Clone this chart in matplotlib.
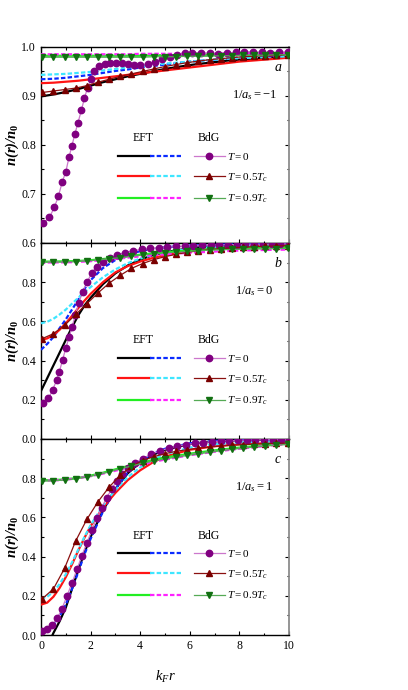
"""Density profiles n(r)/n0 vs k_F r for three couplings: EFT (lines) vs BdG (symbols)."""
import matplotlib
matplotlib.use("Agg")
import matplotlib.pyplot as plt
from matplotlib.legend_handler import HandlerBase
from matplotlib.lines import Line2D
from matplotlib.ticker import MultipleLocator, FormatStrFormatter

# ---------------------------------------------------------------- data
# EFT curves share one x grid per panel
X_EFT_A = [0, 0.5, 1, 1.5, 2, 2.5, 3, 3.5, 4, 4.5, 5, 5.5, 6, 6.5, 7, 7.5, 8, 8.5, 9, 9.5, 10]
A_BLACK = [0.899, 0.903, 0.908, 0.914, 0.921, 0.928, 0.934, 0.940, 0.945, 0.950, 0.955,
           0.959, 0.963, 0.966, 0.969, 0.972, 0.974, 0.976, 0.978, 0.979, 0.980]
A_BLUE = [0.934, 0.935, 0.937, 0.940, 0.943, 0.947, 0.951, 0.954, 0.958, 0.961, 0.964,
          0.967, 0.970, 0.972, 0.974, 0.976, 0.978, 0.980, 0.981, 0.982, 0.983]
A_RED = [0.926, 0.927, 0.929, 0.931, 0.934, 0.937, 0.940, 0.943, 0.946, 0.949, 0.952,
         0.955, 0.958, 0.961, 0.964, 0.967, 0.970, 0.972, 0.974, 0.976, 0.978]
A_CYAN = [0.943, 0.944, 0.945, 0.947, 0.949, 0.952, 0.955, 0.958, 0.961, 0.963, 0.966,
          0.968, 0.970, 0.972, 0.974, 0.976, 0.977, 0.978, 0.979, 0.980, 0.981]
A_GREEN = [0.982, 0.982, 0.982, 0.982, 0.982, 0.982, 0.982, 0.982, 0.982, 0.983, 0.983,
           0.983, 0.983, 0.983, 0.984, 0.984, 0.984, 0.984, 0.985, 0.985, 0.985]
A_MAGENTA = [0.985, 0.985, 0.985, 0.985, 0.985, 0.985, 0.985, 0.985, 0.986, 0.986, 0.986,
             0.986, 0.986, 0.986, 0.986, 0.987, 0.987, 0.987, 0.987, 0.987, 0.987]

X_EFT = [0, 0.25, 0.5, 0.75, 1, 1.25, 1.5, 1.75, 2, 2.5, 3, 3.5, 4, 4.5, 5, 6, 7, 8, 9, 10]
B_BLACK = [0.245, 0.31, 0.375, 0.44, 0.505, 0.57, 0.63, 0.68, 0.72, 0.79, 0.845, 0.885,
           0.915, 0.937, 0.953, 0.973, 0.984, 0.990, 0.993, 0.995]
B_BLUE = [0.455, 0.485, 0.52, 0.565, 0.61, 0.66, 0.71, 0.765, 0.81, 0.872, 0.913, 0.94,
          0.958, 0.97, 0.978, 0.987, 0.991, 0.994, 0.995, 0.996]
B_RED = [0.505, 0.513, 0.53, 0.557, 0.59, 0.628, 0.667, 0.705, 0.74, 0.80, 0.85, 0.882,
         0.905, 0.923, 0.937, 0.958, 0.972, 0.981, 0.986, 0.989]
B_CYAN = [0.59, 0.598, 0.613, 0.635, 0.66, 0.69, 0.72, 0.748, 0.775, 0.825, 0.865, 0.897,
          0.92, 0.938, 0.952, 0.97, 0.98, 0.986, 0.989, 0.991]
B_GREEN = [0.905, 0.905, 0.905, 0.906, 0.906, 0.907, 0.908, 0.910, 0.912, 0.918, 0.925,
           0.933, 0.940, 0.947, 0.953, 0.962, 0.969, 0.974, 0.977, 0.979]
B_MAGENTA = [0.900, 0.900, 0.900, 0.901, 0.901, 0.902, 0.903, 0.905, 0.907, 0.912, 0.918,
             0.925, 0.931, 0.937, 0.942, 0.950, 0.956, 0.961, 0.964, 0.966]

C_BLACK = [-0.12, -0.06, 0.01, 0.07, 0.14, 0.235, 0.33, 0.42, 0.50, 0.635, 0.745, 0.825,
           0.88, 0.918, 0.945, 0.975, 0.988, 0.994, 0.997, 0.998]
C_BLUE = [0.015, 0.025, 0.05, 0.095, 0.155, 0.235, 0.32, 0.41, 0.49, 0.63, 0.745, 0.83,
          0.885, 0.925, 0.95, 0.978, 0.99, 0.995, 0.997, 0.998]
C_RED = [0.155, 0.165, 0.195, 0.24, 0.295, 0.36, 0.43, 0.495, 0.555, 0.65, 0.725, 0.79,
         0.84, 0.88, 0.91, 0.945, 0.963, 0.973, 0.978, 0.981]
C_CYAN = [0.185, 0.195, 0.22, 0.26, 0.31, 0.37, 0.435, 0.50, 0.56, 0.66, 0.74, 0.805,
          0.855, 0.893, 0.922, 0.956, 0.973, 0.982, 0.987, 0.989]
C_GREEN = [0.79, 0.79, 0.791, 0.792, 0.795, 0.798, 0.802, 0.807, 0.813, 0.828, 0.845,
           0.862, 0.878, 0.892, 0.905, 0.925, 0.942, 0.956, 0.968, 0.978]
C_MAGENTA = [0.788, 0.788, 0.789, 0.79, 0.793, 0.796, 0.80, 0.805, 0.81, 0.823, 0.838,
             0.853, 0.868, 0.882, 0.895, 0.917, 0.935, 0.95, 0.963, 0.975]

# BdG T=0 (circles), own grid per panel
A_X0 = [0.09, 0.34, 0.54, 0.70, 0.86, 1.0, 1.13, 1.24, 1.37, 1.49, 1.63, 1.75, 1.88, 2.02,
        2.15, 2.35, 2.57, 2.78, 3.02, 3.27, 3.51, 3.75, 4.0, 4.3, 4.6, 4.9, 5.2, 5.5, 5.8,
        6.1, 6.45, 6.8, 7.15, 7.5, 7.85, 8.2, 8.55, 8.9, 9.25, 9.6, 9.95]
A_Y0 = [0.640, 0.652, 0.673, 0.695, 0.725, 0.745, 0.775, 0.797, 0.823, 0.845, 0.871, 0.895,
        0.917, 0.935, 0.951, 0.961, 0.966, 0.968, 0.968, 0.967, 0.965, 0.963, 0.963, 0.966,
        0.970, 0.975, 0.980, 0.984, 0.987, 0.988, 0.988, 0.987, 0.986, 0.987, 0.989, 0.990,
        0.990, 0.989, 0.988, 0.989, 0.990]
B_X0 = [0.09, 0.3, 0.47, 0.63, 0.74, 0.87, 1.0, 1.13, 1.26, 1.38, 1.52, 1.68, 1.87, 2.04,
        2.24, 2.51, 2.78, 3.05, 3.39, 3.72, 4.06, 4.4, 4.75, 5.1, 5.45, 5.8, 6.15, 6.5,
        6.85, 7.2, 7.55, 7.9, 8.25, 8.6, 8.95, 9.3, 9.65, 10.0]
B_Y0 = [0.183, 0.207, 0.25, 0.30, 0.343, 0.403, 0.463, 0.519, 0.573, 0.633, 0.692, 0.752,
        0.803, 0.845, 0.879, 0.905, 0.922, 0.939, 0.951, 0.961, 0.967, 0.972, 0.976, 0.979,
        0.982, 0.984, 0.986, 0.988, 0.989, 0.990, 0.991, 0.992, 0.993, 0.993, 0.994, 0.994,
        0.995, 0.995]
C_X0 = [0.05, 0.25, 0.45, 0.65, 0.85, 1.05, 1.25, 1.45, 1.65, 1.85, 2.05, 2.25, 2.45, 2.65,
        2.85, 3.05, 3.25, 3.5, 3.8, 4.1, 4.45, 4.8, 5.15, 5.5, 5.85, 6.2, 6.55, 6.9, 7.25,
        7.6, 7.95, 8.3, 8.65, 9.0, 9.35, 9.7, 10.0]
C_Y0 = [0.02, 0.03, 0.05, 0.085, 0.135, 0.20, 0.265, 0.335, 0.405, 0.47, 0.535, 0.595,
        0.65, 0.70, 0.745, 0.785, 0.82, 0.85, 0.878, 0.90, 0.922, 0.94, 0.953, 0.963, 0.971,
        0.977, 0.982, 0.986, 0.989, 0.991, 0.993, 0.994, 0.995, 0.996, 0.996, 0.997, 0.997]

# BdG T=0.5Tc (up triangles) and T=0.9Tc (down triangles) share one grid
X_TRI = [0.05, 0.5, 0.95, 1.4, 1.85, 2.3, 2.75, 3.2, 3.65, 4.1, 4.55, 5.0, 5.45, 5.9,
         6.35, 6.8, 7.25, 7.7, 8.15, 8.6, 9.05, 9.5, 9.95]
A_Y5 = [0.907, 0.910, 0.913, 0.916, 0.921, 0.928, 0.934, 0.940, 0.945, 0.950, 0.955, 0.960,
        0.964, 0.968, 0.971, 0.974, 0.976, 0.978, 0.980, 0.981, 0.982, 0.983, 0.984]
A_Y9 = [0.979, 0.979, 0.979, 0.979, 0.979, 0.979, 0.979, 0.979, 0.979, 0.979, 0.980, 0.980,
        0.980, 0.981, 0.981, 0.981, 0.982, 0.982, 0.983, 0.983, 0.983, 0.984, 0.984]
B_Y5 = [0.512, 0.537, 0.58, 0.635, 0.69, 0.745, 0.795, 0.835, 0.87, 0.895, 0.915, 0.93,
        0.942, 0.952, 0.96, 0.966, 0.971, 0.975, 0.978, 0.981, 0.983, 0.985, 0.986]
B_Y9 = [0.902, 0.902, 0.903, 0.905, 0.908, 0.913, 0.919, 0.925, 0.932, 0.938, 0.944, 0.949,
        0.953, 0.957, 0.96, 0.963, 0.965, 0.967, 0.968, 0.969, 0.97, 0.971, 0.972]
C_Y5 = [0.185, 0.235, 0.34, 0.48, 0.59, 0.68, 0.755, 0.815, 0.86, 0.89, 0.91, 0.925, 0.937,
        0.946, 0.953, 0.959, 0.964, 0.968, 0.971, 0.974, 0.976, 0.978, 0.979]
C_Y9 = [0.785, 0.787, 0.79, 0.797, 0.806, 0.818, 0.832, 0.848, 0.862, 0.876, 0.888, 0.898,
        0.907, 0.916, 0.924, 0.932, 0.94, 0.947, 0.953, 0.959, 0.964, 0.968, 0.972]

PANELS = [
    dict(tag="a", coupling=r"$1/a_s = -1$", ylim=(0.6, 1.0), major=0.1, minor=0.05,
         head_y=0.536, leg_y=0.33,
         x=X_EFT_A, eft=[A_BLACK, A_BLUE, A_RED, A_CYAN, A_GREEN, A_MAGENTA],
         bdg=[(A_X0, A_Y0), (X_TRI, A_Y5), (X_TRI, A_Y9)]),
    dict(tag="b", coupling=r"$1/a_s = 0$", ylim=(0.0, 1.0), major=0.2, minor=0.1,
         head_y=0.505, leg_y=0.30,
         x=X_EFT, eft=[B_BLACK, B_BLUE, B_RED, B_CYAN, B_GREEN, B_MAGENTA],
         bdg=[(B_X0, B_Y0), (X_TRI, B_Y5), (X_TRI, B_Y9)]),
    dict(tag="c", coupling=r"$1/a_s = 1$", ylim=(0.0, 1.0), major=0.2, minor=0.1,
         head_y=0.505, leg_y=0.305,
         x=X_EFT, eft=[C_BLACK, C_BLUE, C_RED, C_CYAN, C_GREEN, C_MAGENTA],
         bdg=[(C_X0, C_Y0), (X_TRI, C_Y5), (X_TRI, C_Y9)]),
]

T_LABELS = [r"$T = 0$", r"$T = 0.5T_c$", r"$T = 0.9T_c$"]
EFT_SOLID = ["#000000", "#ff1414", "#22ee22"]
EFT_DASH = ["#0a2bff", "#3ee6ff", "#ff22ff"]
BDG_LINE = ["#cc77cc", "#8b1010", "#55aa55"]
BDG_MARK = ["#800080", "#7a0000", "#127012"]
BDG_SYM = ["o", "^", "v"]


class EFTBdGHandler(HandlerBase):
    """solid + dashed EFT pair, a gap, then the BdG line with its symbol."""
    def create_artists(self, legend, orig_handle, xdescent, ydescent, width, height,
                       fontsize, trans):
        solid, dashed, bdg = orig_handle
        y = height / 2 - ydescent
        x0 = -xdescent
        arts = []
        for h, a, b in [(solid, 0.0, 0.30), (dashed, 0.30, 0.59), (bdg, 0.71, 1.0)]:
            ln = Line2D([x0 + a * width, x0 + b * width], [y, y])
            ln.update_from(h)
            ln.set_marker("None")
            ln.set_transform(trans)
            arts.append(ln)
        mk = Line2D([x0 + 0.855 * width], [y])
        mk.update_from(bdg)
        mk.set_linestyle("None")
        mk.set_transform(trans)
        arts.append(mk)
        return arts


def main(out="out.png"):
    plt.rcParams.update({
        "font.family": "Liberation Serif",
        "mathtext.fontset": "custom",
        "mathtext.rm": "Liberation Serif",
        "mathtext.it": "Liberation Serif:italic",
        "mathtext.bf": "Liberation Serif:bold",
        "mathtext.bfit": "Liberation Serif:italic:bold",
        "axes.linewidth": 1.0,
    })

    fig = plt.figure(figsize=(4.08, 6.90), dpi=100)
    gs = fig.add_gridspec(3, 1, left=0.1005, right=0.708, top=0.932, bottom=0.0797, hspace=0)

    for i, p in enumerate(PANELS):
        ax = fig.add_subplot(gs[i, 0])
        x = p["x"]
        handles = []
        for k in range(3):
            solid, = ax.plot(x, p["eft"][2 * k], color=EFT_SOLID[k], lw=1.6, zorder=3)
            dashed, = ax.plot(x, p["eft"][2 * k + 1], color=EFT_DASH[k], lw=1.6,
                              dashes=(2.0, 1.0), zorder=3)
            bx, by = p["bdg"][k]
            bdg, = ax.plot(bx, by, color=BDG_LINE[k], lw=0.9, marker=BDG_SYM[k], ms=4.6,
                           mfc=BDG_MARK[k], mec=BDG_MARK[k], zorder=4)
            handles.append((solid, dashed, bdg))

        ax.set_xlim(0, 10)
        ax.set_ylim(*p["ylim"])
        ax.xaxis.set_major_locator(MultipleLocator(2))
        ax.xaxis.set_minor_locator(MultipleLocator(1))
        ax.yaxis.set_major_locator(MultipleLocator(p["major"]))
        ax.yaxis.set_minor_locator(MultipleLocator(p["minor"]))
        ax.yaxis.set_major_formatter(FormatStrFormatter("%.1f"))
        ax.tick_params(which="both", direction="in", top=True, right=True, labelsize=8.5,
                       width=0.8)
        ax.tick_params(which="major", length=3.2)
        ax.tick_params(which="minor", length=1.8)
        if i > 0:
            # top label (1.0) would collide with the panel above's bottom label
            ax.set_yticks([t for t in ax.get_yticks() if t < 0.95 and t >= 0])
            ax.set_ylim(*p["ylim"])
        if i < 2:
            ax.tick_params(labelbottom=False)
        ax.spines["right"].set_color("0.55")
        ax.spines["right"].set_linewidth(1.3)

        ax.set_ylabel(r"$\mathbfit{n(r)/n}_\mathbf{0}$", fontsize=10.5, labelpad=0.5)
        ax.text(0.955, 0.895, p["tag"], transform=ax.transAxes, fontsize=10,
                style="italic", ha="center", va="center")
        ax.text(0.86, 0.755, p["coupling"], transform=ax.transAxes, fontsize=9,
                ha="center", va="center")

        ax.text(0.41, p["head_y"], "EFT", transform=ax.transAxes, fontsize=8.5,
                ha="center", va="center")
        ax.text(0.675, p["head_y"], "BdG", transform=ax.transAxes, fontsize=8.5,
                ha="center", va="center")
        ax.legend(handles, T_LABELS, handler_map={tuple: EFTBdGHandler()},
                  loc="center left", bbox_to_anchor=(0.31, p["leg_y"]), frameon=False,
                  fontsize=8, handlelength=9.6, handletextpad=0.25, borderpad=0,
                  borderaxespad=0, labelspacing=0.8)

        if i == 2:
            ax.set_xlabel(r"$k_F r$", fontsize=10.5, labelpad=12)

    fig.savefig(out, dpi=100)


if __name__ == "__main__":
    main()
